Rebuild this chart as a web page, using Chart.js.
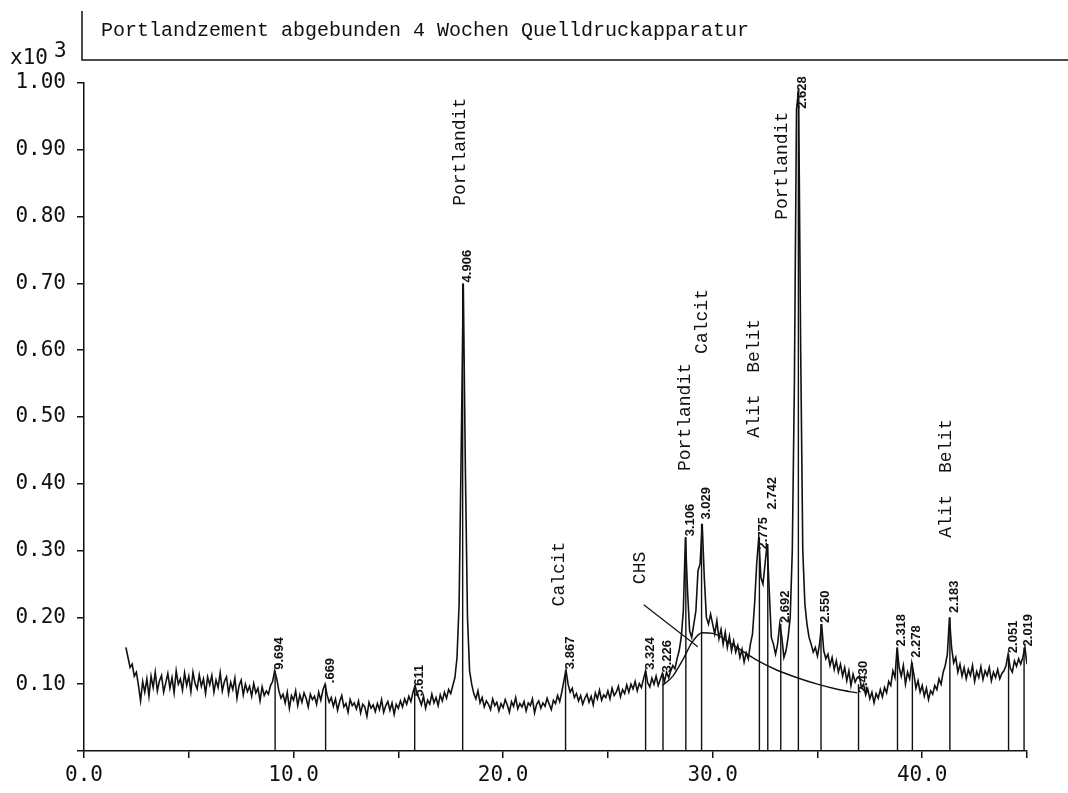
<!DOCTYPE html>
<html>
<head>
<meta charset="utf-8">
<title>Portlandzement abgebunden 4 Wochen</title>
<script src="https://cdn.jsdelivr.net/npm/chart.js@4/dist/chart.umd.min.js"></script>
<style>
    html, body { margin: 0; padding: 0; background: #fff; }
    #wrap { width: 1068px; height: 793px; }
</style>
</head>
<body>
<div id="wrap"><canvas id="xrdChart" width="1068" height="793"></canvas></div>
<script>
// ================================================
// DATA (intensity in counts x10^3, 2-theta in degrees)
// ================================================

const titleText = 'Portlandzement abgebunden 4 Wochen Quelldruckapparatur';

const startAngle = 2.0;
const stepAngle = 0.1;

// one row per degree, 2.0 ... 45.0
const counts = [
    0.155, 0.140, 0.125, 0.130, 0.112, 0.118, 0.098, 0.075, 0.104, 0.088,
    0.108, 0.082, 0.112, 0.095, 0.118, 0.090, 0.105, 0.113, 0.088, 0.102,
    0.116, 0.094, 0.110, 0.087, 0.120, 0.100, 0.108, 0.091, 0.117, 0.098,
    0.112, 0.089, 0.118, 0.101, 0.093, 0.114, 0.097, 0.108, 0.086, 0.111,
    0.099, 0.113, 0.088, 0.106, 0.095, 0.117, 0.090, 0.104, 0.111, 0.086,
    0.103, 0.092, 0.109, 0.079, 0.098, 0.106, 0.084, 0.100, 0.089, 0.097,
    0.082, 0.101, 0.087, 0.094, 0.075, 0.096, 0.083, 0.090, 0.085, 0.098,
    0.104, 0.120, 0.108, 0.090, 0.079, 0.085, 0.072, 0.088, 0.064, 0.083,
    0.076, 0.090, 0.068, 0.084, 0.073, 0.087, 0.079, 0.066, 0.085, 0.077,
    0.082, 0.070, 0.088, 0.076, 0.091, 0.100, 0.084, 0.073, 0.080, 0.067,
    0.078, 0.061, 0.074, 0.083, 0.066, 0.071, 0.058, 0.077, 0.068, 0.072,
    0.063, 0.075, 0.057, 0.070, 0.066, 0.052, 0.073, 0.064, 0.069, 0.059,
    0.071, 0.062, 0.077, 0.058, 0.068, 0.074, 0.061, 0.072, 0.055, 0.070,
    0.064, 0.075, 0.066, 0.078, 0.070, 0.082, 0.074, 0.088, 0.098, 0.085,
    0.078, 0.069, 0.082, 0.064, 0.076, 0.070, 0.085, 0.072, 0.080, 0.068,
    0.084, 0.075, 0.088, 0.079, 0.092, 0.086, 0.098, 0.110, 0.140, 0.220,
    0.450, 0.700, 0.420, 0.200, 0.120, 0.100, 0.086, 0.078, 0.090, 0.072,
    0.080, 0.066, 0.075, 0.070, 0.062, 0.078, 0.068, 0.073, 0.060, 0.071,
    0.065, 0.077, 0.069, 0.058, 0.074, 0.067, 0.080, 0.063, 0.071, 0.066,
    0.074, 0.060, 0.072, 0.068, 0.078, 0.057, 0.070, 0.075, 0.064, 0.072,
    0.067, 0.079, 0.070, 0.062, 0.076, 0.071, 0.083, 0.074, 0.088, 0.105,
    0.121, 0.100, 0.088, 0.094, 0.080, 0.086, 0.075, 0.083, 0.070, 0.079,
    0.085, 0.073, 0.082, 0.069, 0.087, 0.078, 0.091, 0.076, 0.084, 0.080,
    0.090, 0.078, 0.094, 0.083, 0.088, 0.097, 0.081, 0.092, 0.086, 0.099,
    0.088, 0.100, 0.093, 0.104, 0.090, 0.101, 0.095, 0.108, 0.120, 0.102,
    0.096, 0.109, 0.100, 0.112, 0.098, 0.107, 0.116, 0.104, 0.118, 0.110,
    0.120, 0.128, 0.123, 0.138, 0.150, 0.170, 0.210, 0.320, 0.240, 0.180,
    0.170, 0.190, 0.210, 0.270, 0.280, 0.340, 0.260, 0.200, 0.190, 0.205,
    0.190, 0.175, 0.195, 0.168, 0.182, 0.160, 0.178, 0.155, 0.172, 0.150,
    0.165, 0.148, 0.158, 0.140, 0.152, 0.133, 0.147, 0.138, 0.160, 0.175,
    0.220, 0.280, 0.320, 0.260, 0.250, 0.280, 0.310, 0.240, 0.170, 0.160,
    0.145, 0.160, 0.190, 0.170, 0.140, 0.150, 0.170, 0.200, 0.300, 0.550,
    0.960, 0.990, 0.600, 0.300, 0.220, 0.190, 0.170, 0.160, 0.148, 0.155,
    0.142, 0.160, 0.190, 0.150, 0.138, 0.145, 0.128, 0.140, 0.122, 0.135,
    0.118, 0.130, 0.112, 0.125, 0.105, 0.120, 0.098, 0.115, 0.103, 0.110,
    0.112, 0.095, 0.100, 0.084, 0.093, 0.078, 0.088, 0.072, 0.086, 0.079,
    0.092, 0.081, 0.095, 0.087, 0.104, 0.098, 0.120, 0.110, 0.155, 0.125,
    0.112, 0.128, 0.100, 0.118, 0.108, 0.132, 0.115, 0.094, 0.105, 0.088,
    0.098, 0.082, 0.094, 0.077, 0.090, 0.085, 0.098, 0.092, 0.108, 0.100,
    0.118, 0.128, 0.145, 0.200, 0.155, 0.132, 0.140, 0.118, 0.130, 0.112,
    0.125, 0.108, 0.122, 0.113, 0.128, 0.104, 0.119, 0.110, 0.126, 0.107,
    0.120, 0.113, 0.125, 0.105, 0.118, 0.110, 0.122, 0.108, 0.116, 0.120,
    0.128, 0.145, 0.124, 0.118, 0.135, 0.127, 0.138, 0.130, 0.140, 0.155,
    0.130
];

// marked reflections (d-spacing labels)
const peakAngles = [9.12, 11.53, 15.78, 18.07, 22.98, 26.80, 27.63, 28.72, 29.47, 32.23,
                    32.63, 33.25, 34.09, 35.17, 36.96, 38.82, 39.53, 41.32, 44.12, 44.86];
const peakTops   = [0.120, 0.100, 0.095, 0.700, 0.121, 0.120, 0.116, 0.320, 0.340, 0.320,
                    0.310, 0.190, 0.990, 0.190, 0.100, 0.155, 0.132, 0.200, 0.145, 0.155];
const peakLabelY = [0.120, 0.100, 0.080, 0.700, 0.121, 0.120, 0.116, 0.320, 0.345, 0.300,
                    0.360, 0.190, 0.960, 0.190, 0.085, 0.155, 0.138, 0.205, 0.145, 0.155];
const peakLabels = ['9.694', '.669', '5.611', '4.906', '3.867', '3.324', '3.226', '3.106', '3.029', '2.775',
                    '2.742', '2.692', '2.628', '2.550', '2.430', '2.318', '2.278', '2.183', '2.051', '2.019'];

// phase names
const phaseNames = ['Portlandit', 'Calcit', 'CHS', 'Portlandit', 'Calcit', 'Alit  Belit', 'Portlandit', 'Alit  Belit'];
const phaseX     = [17.95, 22.70, 26.52, 28.67, 29.48, 32.00, 33.33, 41.14];
const phaseY     = [0.897, 0.265, 0.274, 0.500, 0.643, 0.558, 0.876, 0.408];

// amorphous CHS hump and its pointer
const chsX = [27.6, 28.1, 28.6, 29.0, 29.5, 30.0, 31.0, 32.0, 33.0, 34.0, 35.0, 36.0, 36.9];
const chsY = [0.098, 0.112, 0.138, 0.162, 0.177, 0.176, 0.158, 0.138, 0.122, 0.110, 0.100, 0.092, 0.087];
const chsPointerX = [26.71, 29.29];
const chsPointerY = [0.219, 0.156];

const xTickLabels = ['0.0', '10.0', '20.0', '30.0', '40.0'];

// ================================================
// CHART
// ================================================

const INK = '#111';
const MONO = '"DejaVu Sans Mono", monospace';
const COURIER = '"Liberation Mono", "Courier New", monospace';

const tracePoints = counts.map((v, i) => ({ x: startAngle + i * stepAngle, y: v }));
const humpPoints = chsX.map((x, i) => ({ x: x, y: chsY[i] }));
const pointerPoints = chsPointerX.map((x, i) => ({ x: x, y: chsPointerY[i] }));

// draws sticks, labels, title box
const xrdDecor = {
    id: 'xrdDecor',
    beforeDraw(chart) {
        const ctx = chart.ctx;
        ctx.save();
        ctx.fillStyle = '#fff';
        ctx.fillRect(0, 0, chart.width, chart.height);
        ctx.restore();
    },
    beforeDatasetsDraw(chart) {
        const ctx = chart.ctx;
        const xs = chart.scales.x;
        const ys = chart.scales.y;
        ctx.save();
        ctx.strokeStyle = INK;
        ctx.fillStyle = INK;
        ctx.lineWidth = 1.4;
        peakAngles.forEach((a, i) => {
            const px = xs.getPixelForValue(a);
            ctx.beginPath();
            ctx.moveTo(px, ys.getPixelForValue(0));
            ctx.lineTo(px, ys.getPixelForValue(peakTops[i]));
            ctx.stroke();

            ctx.save();
            ctx.translate(px + 8, ys.getPixelForValue(peakLabelY[i]) - 1);
            ctx.rotate(-Math.PI / 2);
            ctx.font = 'bold 13px "Liberation Sans", Arial, sans-serif';
            ctx.textAlign = 'left';
            ctx.textBaseline = 'alphabetic';
            ctx.fillText(peakLabels[i], 0, 0);
            ctx.restore();
        });
        ctx.restore();
    },
    afterDraw(chart) {
        const ctx = chart.ctx;
        const xs = chart.scales.x;
        const ys = chart.scales.y;
        ctx.save();
        ctx.strokeStyle = INK;
        ctx.fillStyle = INK;

        // title box
        ctx.lineWidth = 1.5;
        ctx.beginPath();
        ctx.moveTo(82, 11);
        ctx.lineTo(82, 60);
        ctx.lineTo(chart.width, 60);
        ctx.stroke();
        ctx.font = '20px ' + COURIER;
        ctx.textBaseline = 'alphabetic';
        ctx.textAlign = 'left';
        ctx.fillText(titleText, 101, 36);

        // axis multiplier
        ctx.font = '21px ' + MONO;
        ctx.fillText('x10', 10, 64);
        ctx.fillText('3', 54, 57);

        // phase names
        ctx.font = '18px ' + COURIER;
        ctx.textAlign = 'center';
        ctx.textBaseline = 'middle';
        phaseNames.forEach((name, i) => {
            ctx.save();
            ctx.translate(xs.getPixelForValue(phaseX[i]), ys.getPixelForValue(phaseY[i]));
            ctx.rotate(-Math.PI / 2);
            ctx.fillText(name, 0, 0);
            ctx.restore();
        });
        ctx.restore();
    }
};

new Chart(document.getElementById('xrdChart'), {
    type: 'line',
    data: {
        datasets: [
            {
                label: 'Intensität',
                data: tracePoints,
                borderColor: INK,
                borderWidth: 1.6,
                pointRadius: 0,
                tension: 0
            },
            {
                label: 'CHS',
                data: humpPoints,
                borderColor: INK,
                borderWidth: 1.4,
                pointRadius: 0,
                cubicInterpolationMode: 'monotone'
            },
            {
                label: 'CHS Zeiger',
                data: pointerPoints,
                borderColor: INK,
                borderWidth: 1.2,
                pointRadius: 0,
                tension: 0
            }
        ]
    },
    options: {
        responsive: false,
        animation: false,
        devicePixelRatio: 1,
        layout: {
            padding: { left: 0, top: 83, right: 41, bottom: 0 }
        },
        plugins: {
            legend: { display: false },
            tooltip: { enabled: false }
        },
        scales: {
            x: {
                type: 'linear',
                min: 0,
                max: 45,
                afterFit: (scale) => { scale.height = 42; },
                border: { display: true, color: INK, width: 1.5 },
                grid: { drawOnChartArea: false, drawTicks: true, tickLength: 7, color: INK, lineWidth: 1.5 },
                ticks: {
                    stepSize: 5,
                    padding: 5,
                    maxRotation: 0,
                    autoSkip: false,
                    color: INK,
                    font: { family: MONO, size: 21 },
                    callback: (v) => (v % 10 === 0 ? xTickLabels[v / 10] : '')
                }
            },
            y: {
                min: 0,
                max: 1.0,
                afterFit: (scale) => { scale.width = 84; },
                border: { display: true, color: INK, width: 1.5 },
                grid: { drawOnChartArea: false, drawTicks: true, tickLength: 7, color: INK, lineWidth: 1.5 },
                ticks: {
                    stepSize: 0.1,
                    padding: 11,
                    color: INK,
                    font: { family: MONO, size: 21 },
                    callback: (v) => (v < 0.05 ? '' : v.toFixed(2))
                }
            }
        }
    },
    plugins: [xrdDecor]
});
</script>
</body>
</html>
